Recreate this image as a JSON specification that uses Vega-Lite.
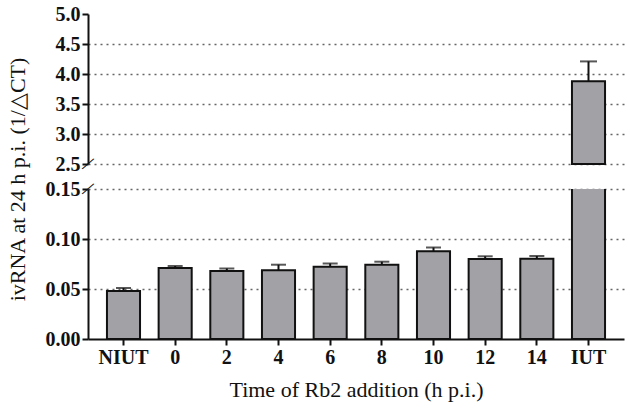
{
  "$schema": "https://vega.github.io/schema/vega-lite/v6.json",
  "background": "white",
  "padding": {"left": 6, "top": 4, "right": 6, "bottom": 6},
  "bounds": "flush",
  "spacing": 25,
  "config": {
    "view": {"stroke": null},
    "axis": {
      "labelFont": "Liberation Serif",
      "labelFontWeight": "bold",
      "labelFontSize": 20,
      "labelColor": "#111",
      "labelOverlap": false,
      "titleFont": "Liberation Serif",
      "titleFontWeight": "normal",
      "titleFontSize": 22,
      "titleColor": "#111",
      "domainColor": "#111",
      "domainWidth": 2,
      "tickColor": "#111",
      "tickWidth": 2,
      "tickSize": 6,
      "labelPadding": 2,
      "gridColor": "#666",
      "gridDash": [2, 4],
      "gridWidth": 1.5
    }
  },
  "data": {
    "values": [
      {"group": "NIUT", "value": 0.048, "upper": 0.051},
      {"group": "0", "value": 0.071, "upper": 0.073},
      {"group": "2", "value": 0.068, "upper": 0.0705},
      {"group": "4", "value": 0.0688, "upper": 0.0743},
      {"group": "6", "value": 0.0723, "upper": 0.0755},
      {"group": "8", "value": 0.0743, "upper": 0.0773},
      {"group": "10", "value": 0.0877, "upper": 0.0915},
      {"group": "12", "value": 0.0800, "upper": 0.0827},
      {"group": "14", "value": 0.0803, "upper": 0.0830},
      {"group": "IUT", "value": 3.878, "upper": 4.21}
    ]
  },
  "vconcat": [
    {
      "width": 536,
      "height": 150,
      "encoding": {
        "x": {
          "field": "group", "type": "nominal", "sort": null,
          "scale": {"domain": ["NIUT", "0", "2", "4", "6", "8", "10", "12", "14", "IUT"], "paddingInner": 0.36, "paddingOuter": 0.367},
          "axis": null
        }
      },
      "layer": [
        {
          "transform": [{"filter": "datum.group == 'IUT'"}],
          "mark": {"type": "bar", "fill": "#a2a2a6", "stroke": "#111", "strokeWidth": 2},
          "encoding": {
            "y": {
              "field": "value", "type": "quantitative",
              "scale": {"domain": [2.5, 5], "zero": false, "nice": false},
              "axis": {
                "title": null,
                "values": [2.5, 3, 3.5, 4, 4.5, 5],
                "tickCount": 12,
                "format": ".1f",
                "grid": true,
                "gridOpacity": {"condition": {"test": "datum.value >= 5", "value": 0}, "value": 1}
              }
            },
            "y2": {"datum": 2.5}
          }
        },
        {
          "transform": [{"filter": "datum.group == 'IUT'"}],
          "mark": {"type": "rule", "color": "#111", "strokeWidth": 2},
          "encoding": {
            "y": {"field": "value", "type": "quantitative"},
            "y2": {"field": "upper"}
          }
        },
        {
          "transform": [{"filter": "datum.group == 'IUT'"}],
          "mark": {"type": "tick", "color": "#111", "thickness": 2, "size": 17, "orient": "horizontal"},
          "encoding": {
            "y": {"field": "upper", "type": "quantitative"}
          }
        },
        {
          "data": {"values": [{"mark": "/"}]},
          "mark": {"type": "text", "font": "Liberation Serif", "fontSize": 22, "angle": 30, "color": "#111", "align": "center", "baseline": "middle"},
          "encoding": {
            "x": {"value": 0},
            "y": {"datum": 2.5, "type": "quantitative"},
            "text": {"field": "mark"}
          }
        }
      ]
    },
    {
      "width": 536,
      "height": 150,
      "encoding": {
        "x": {
          "field": "group", "type": "nominal", "sort": null,
          "scale": {"domain": ["NIUT", "0", "2", "4", "6", "8", "10", "12", "14", "IUT"], "paddingInner": 0.36, "paddingOuter": 0.367},
          "axis": {"title": "Time of Rb2 addition (h p.i.)", "labelAngle": 0, "titleFontWeight": "normal", "titlePadding": 12}
        }
      },
      "layer": [
        {
          "mark": {"type": "bar", "fill": "#a2a2a6", "stroke": "#111", "strokeWidth": 2, "clip": true},
          "encoding": {
            "y": {
              "field": "value", "type": "quantitative",
              "scale": {"domain": [0, 0.15], "nice": false},
              "axis": {
                "title": "ivRNA at 24 h p.i. (1/△CT)",
                "titleY": -10,
                "titleX": -59,
                "values": [0, 0.05, 0.1, 0.15],
                "tickCount": 12,
                "format": ".2f",
                "grid": true,
                "gridOpacity": {"condition": {"test": "datum.value <= 0", "value": 0}, "value": 1}
              }
            }
          }
        },
        {
          "transform": [{"filter": "datum.group != 'IUT'"}],
          "mark": {"type": "rule", "color": "#111", "strokeWidth": 2},
          "encoding": {
            "y": {"field": "value", "type": "quantitative"},
            "y2": {"field": "upper"}
          }
        },
        {
          "transform": [{"filter": "datum.group != 'IUT'"}],
          "mark": {"type": "tick", "color": "#111", "thickness": 2, "size": 15, "orient": "horizontal"},
          "encoding": {
            "y": {"field": "upper", "type": "quantitative"}
          }
        },
        {
          "data": {"values": [{"mark": "/"}]},
          "mark": {"type": "text", "font": "Liberation Serif", "fontSize": 22, "angle": 30, "color": "#111", "align": "center", "baseline": "middle"},
          "encoding": {
            "x": {"value": 0},
            "y": {"datum": 0.15, "type": "quantitative"},
            "text": {"field": "mark"}
          }
        }
      ]
    }
  ]
}
